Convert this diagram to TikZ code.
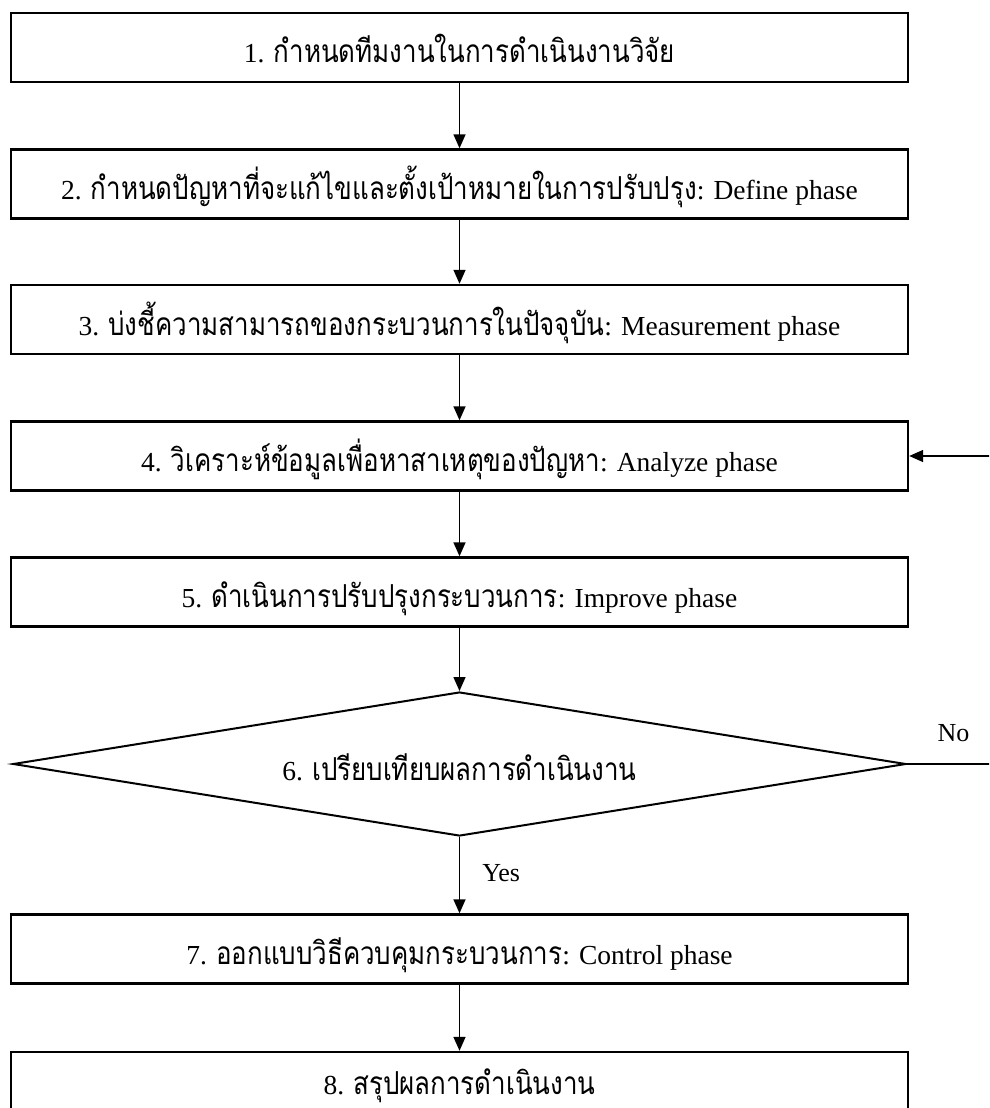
\documentclass[tikz,border=0pt]{standalone}
\usepackage{fontspec}
\setmainfont{Liberation Serif}
\newfontfamily\thaifont[Script=Thai,Scale=1.15,FakeStretch=0.82]{Loma}
\newcommand\tx[1]{{\thaifont #1}}
\usetikzlibrary{arrows.meta,shapes.geometric}

\begin{document}
\begin{tikzpicture}[x=1pt,y=-1pt,
  stepbox/.style={draw,rectangle,line width=2.4pt,minimum width=897pt,
    minimum height=69pt,inner sep=0pt,text height=31pt,text depth=0pt,
    font=\fontsize{27.5}{30}\selectfont},
  decision/.style={draw,diamond,line width=2pt,minimum width=893pt,
    minimum height=144pt,aspect=6.2,inner sep=0pt,text height=33pt,
    text depth=0pt,font=\fontsize{27.5}{30}\selectfont},
  flow/.style={line width=1.5pt,-{Triangle[width=12pt,length=14pt]}},
  lbl/.style={font=\fontsize{26}{28}\selectfont,inner sep=0pt}]

  \useasboundingbox (0,0) rectangle (989,1108);
  \fill[white] (0,0) rectangle (989,1108);
  \clip (0,0) rectangle (989,1108);

  \node[stepbox] (b1) at (459.5,47.5)
    {1. \tx{กำหนดทีมงานในการดำเนินงานวิจัย}};
  \node[stepbox] (b2) at (459.5,184)
    {2. \tx{กำหนดปัญหาที่จะแก้ไขและตั้งเป้าหมายในการปรับปรุง}: Define phase};
  \node[stepbox] (b3) at (459.5,319.5)
    {3. \tx{บ่งชี้ความสามารถของกระบวนการในปัจจุบัน}: Measurement phase};
  \node[stepbox] (b4) at (459.5,456)
    {4. \tx{วิเคราะห์ข้อมูลเพื่อหาสาเหตุของปัญหา}: Analyze phase};
  \node[stepbox] (b5) at (459.5,592)
    {5. \tx{ดำเนินการปรับปรุงกระบวนการ}: Improve phase};
  \node[decision] (d6) at (459.5,764)
    {6. \tx{เปรียบเทียบผลการดำเนินงาน}};
  \node[stepbox] (b7) at (459.5,949)
    {7. \tx{ออกแบบวิธีควบคุมกระบวนการ}: Control phase};
  \node[stepbox,text height=16pt] (b8) at (459.5,1086.5)
    {8. \tx{สรุปผลการดำเนินงาน}};

  \draw[flow] (b1) -- (b2);
  \draw[flow] (b2) -- (b3);
  \draw[flow] (b3) -- (b4);
  \draw[flow] (b4) -- (b5);
  \draw[flow] (b5) -- (d6);
  \draw[flow] (d6) -- node[lbl,midway,anchor=base west,xshift=22pt,yshift=-6pt]{Yes} (b7);
  \draw[flow] (b7) -- (b8);

  % rejected result loops back to the analysis step
  \draw[flow] (d6.east) -- node[lbl,midway,anchor=base,yshift=23pt]{No} (1000,764)
    |- (b4.east);
\end{tikzpicture}
\end{document}
